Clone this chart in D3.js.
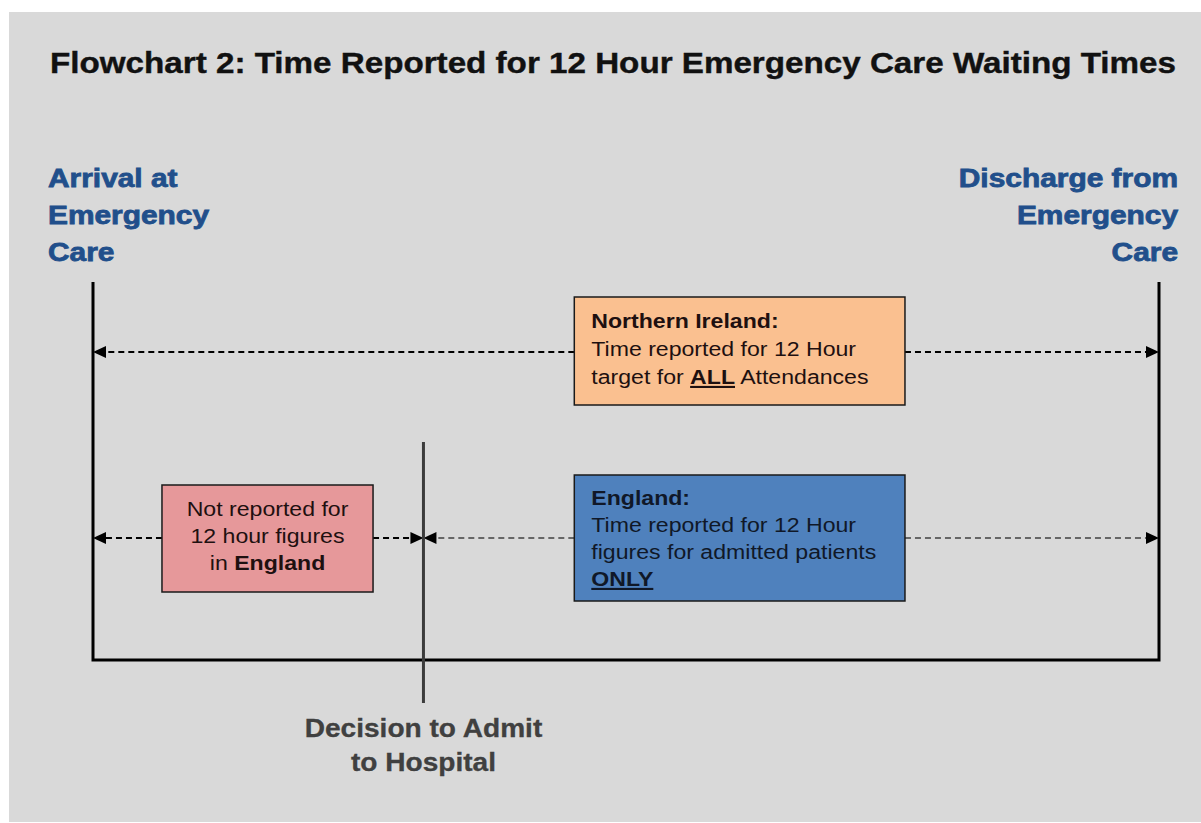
<!DOCTYPE html>
<html>
<head>
<meta charset="utf-8">
<script src="https://cdnjs.cloudflare.com/ajax/libs/d3/7.8.5/d3.min.js"></script>
<style>
  body { margin: 0; background: #ffffff; }
  text { font-family: "Liberation Sans", Arial, Helvetica, sans-serif; }
</style>
</head>
<body>
<script>
// Flowchart 2: time reported for 12 hour emergency care waiting times

var title = "Flowchart 2: Time Reported for 12 Hour Emergency Care Waiting Times";

// milestones along the patient journey (0 = arrival, 1 = discharge)
var milestoneNames = ["Arrival", "Decision", "Discharge"];
var milestoneTimes = [0, 0.31, 1];
var arrivalLabel = ["Arrival at", "Emergency", "Care"];
var dischargeLabel = ["Discharge from", "Emergency", "Care"];
var decisionLabel = ["Decision to Admit", "to Hospital"];

// rows of the chart
var rows = ["Northern Ireland", "England"];

// reported spans: row, from, to, dash colour
var spanRows = ["Northern Ireland", "England", "England"];
var spanFrom = [0, 0, 0.31];
var spanTo = [1, 0.31, 1];
var spanDash = ["black", "black", "grey"];

// boxes sitting on the spans: row, start, end
var boxRows = ["Northern Ireland", "England", "England"];
var boxStart = [0.4515, 0.0647, 0.4515];
var boxEnd = [0.7617, 0.2627, 0.7617];
var boxFills = ["#fac090", "#e6989a", "#4f81bd"];
var boxText = [
  [[["Northern Ireland:", "b"]], [["Time reported for 12 Hour", ""]], [["target for ", ""], ["ALL", "bu"], [" Attendances", ""]]],
  [[["Not reported for", ""]], [["12 hour figures", ""]], [["in ", ""], ["England", "b"]]],
  [[["England:", "b"]], [["Time reported for 12 Hour", ""]], [["figures for admitted patients", ""]], [["ONLY", "bu"]]]
];
var boxAlign = ["start", "middle", "start"];

var W = 1201, H = 823;
var svg = d3.select("body").append("svg").attr("width", W).attr("height", H);

// grey panel
svg.append("rect").attr("x", 9).attr("y", 12).attr("width", W - 9).attr("height", H - 13).attr("fill", "#d9d9d9");

var x = d3.scaleLinear().domain([0, 1]).range([93, 1159]);
var y = d3.scalePoint().domain(rows).range([352, 538]);
var boxY = [297, 485, 475];
var boxH = [108, 107, 126];
var boxFirst = [328, 516, 505];
var boxLine = [28, 27, 27];

// stretched text helper (the source artwork is wide)
function wideText(sel, x0, y0, sx, anchor) {
  return sel.append("text")
    .attr("x", 0).attr("y", y0)
    .attr("text-anchor", anchor)
    .attr("transform", "translate(" + x0 + ",0) scale(" + sx + ",1)");
}

// title
wideText(svg, 613, 73, 1.0, "middle")
  .attr("textLength", 1126).attr("lengthAdjust", "spacingAndGlyphs")
  .style("font-size", "30px").style("font-weight", "bold").attr("fill", "#111")
  .attr("stroke", "#111").attr("stroke-width", 0.4)
  .text(title);

// milestone labels
var blue = "#214f8b";
arrivalLabel.forEach(function(t, i) {
  wideText(svg, 48, 187 + i * 37, 1.15, "start")
    .style("font-size", "26px").style("font-weight", "bold").attr("fill", blue)
    .attr("stroke", blue).attr("stroke-width", 0.8)
    .text(t);
});
dischargeLabel.forEach(function(t, i) {
  wideText(svg, 1178, 187 + i * 37, 1.15, "end")
    .style("font-size", "26px").style("font-weight", "bold").attr("fill", blue)
    .attr("stroke", blue).attr("stroke-width", 0.8)
    .text(t);
});

// dashed spans with arrows, broken by the boxes
spanRows.forEach(function(r, i) {
  var col = spanDash[i] == "grey" ? "#666666" : "#000";
  var yy = y(r);
  var a = spanFrom[i], b = spanTo[i];
  var box = boxRows.map(function(br, j) { return j; }).filter(function(j) {
    return boxRows[j] == r && boxStart[j] >= a && boxEnd[j] <= b;
  })[0];
  // left piece points back to the start, right piece points to the end
  var pieces = [[x(a), x(boxStart[box]), 1], [x(b), x(boxEnd[box]), -1]];
  pieces.forEach(function(p) {
    var tip = p[0], dir = p[2];
    svg.append("line")
      .attr("x1", p[1]).attr("x2", tip + dir * 12)
      .attr("y1", yy).attr("y2", yy)
      .attr("stroke", col).attr("stroke-width", 2)
      .attr("stroke-dasharray", "6,4");
    svg.append("path")
      .attr("d", "M" + tip + "," + yy + "L" + (tip + dir * 13) + "," + (yy - 6) + "L" + (tip + dir * 13) + "," + (yy + 6) + "Z")
      .attr("fill", "#000");
  });
});

// journey frame
svg.append("path")
  .attr("d", "M" + x(0) + ",282V660H" + x(1) + "V282")
  .attr("fill", "none").attr("stroke", "#000").attr("stroke-width", 3);

// decision line
svg.append("line")
  .attr("x1", x(milestoneTimes[1])).attr("x2", x(milestoneTimes[1]))
  .attr("y1", 442).attr("y2", 703)
  .attr("stroke", "#3c3c3c").attr("stroke-width", 3);

decisionLabel.forEach(function(t, i) {
  wideText(svg, x(milestoneTimes[1]), 737 + i * 34, 1.08, "middle")
    .style("font-size", "26px").style("font-weight", "bold").attr("fill", "#404040")
    .attr("stroke", "#404040").attr("stroke-width", 0.3)
    .text(t);
});

// boxes
boxRows.forEach(function(r, i) {
  var x0 = x(boxStart[i]), x1 = x(boxEnd[i]);
  var g = svg.append("g");
  g.append("rect")
    .attr("x", x0).attr("y", boxY[i])
    .attr("width", x1 - x0).attr("height", boxH[i])
    .attr("fill", boxFills[i]).attr("stroke", "#1a1a1a").attr("stroke-width", 1.5);
  var tx = boxAlign[i] == "middle" ? (x0 + x1) / 2 : x0 + 17;
  boxText[i].forEach(function(line, k) {
    var t = wideText(g, tx, boxFirst[i] + k * boxLine[i], 1.1, boxAlign[i])
      .style("font-size", "21px").attr("fill", i == 2 ? "#101828" : "#1e1010");
    line.forEach(function(seg) {
      t.append("tspan")
        .style("font-weight", seg[1].indexOf("b") >= 0 ? "bold" : "normal")
        .style("text-decoration", seg[1].indexOf("u") >= 0 ? "underline" : "none")
        .text(seg[0]);
    });
  });
});
</script>
</body>
</html>
